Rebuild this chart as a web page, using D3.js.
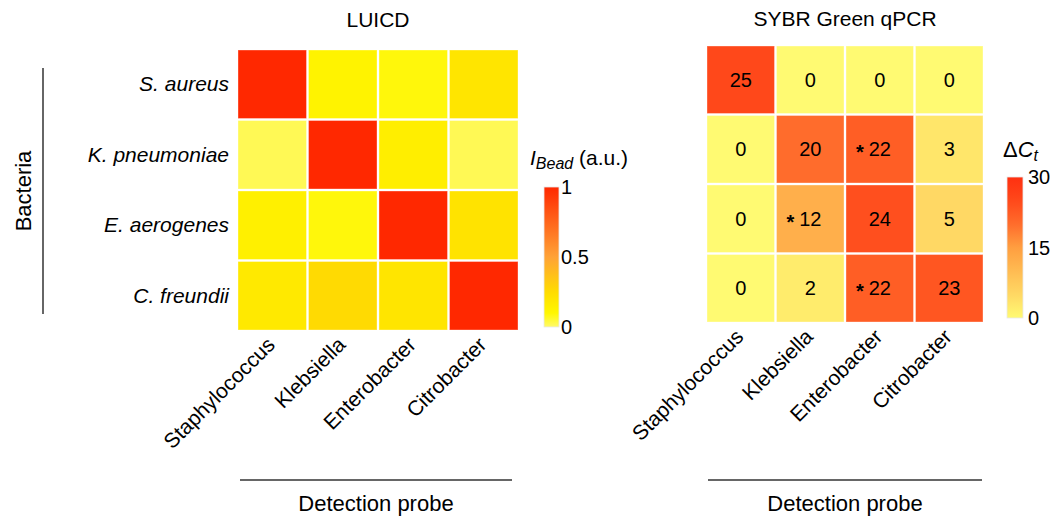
<!DOCTYPE html>
<html><head><meta charset="utf-8">
<script src="https://cdn.jsdelivr.net/npm/d3@7"></script>
<style>body{margin:0;background:#fff}svg{font-family:"Liberation Sans",Arial,sans-serif}</style>
</head><body><svg id="c" width="1056" height="520"></svg>
<script>
const bacteria = ["S. aureus", "K. pneumoniae", "E. aerogenes", "C. freundii"];
const probes = ["Staphylococcus", "Klebsiella", "Enterobacter", "Citrobacter"];
const luicd = [
  [1.00, 0.12, 0.09, 0.20],
  [0.02, 1.00, 0.15, 0.02],
  [0.14, 0.09, 1.00, 0.21],
  [0.18, 0.26, 0.20, 1.00]
];
const qpcr = [
  [25, 0, 0, 0],
  [0, 20, 22, 3],
  [0, 12, 24, 5],
  [0, 2, 22, 23]
];
const qpcrStar = [
  [false, false, false, false],
  [false, false, true, false],
  [false, true, false, false],
  [false, false, true, false]
];
const luicdTicks = [0, 0.5, 1];
const qpcrTicks = [0, 15, 30];

const svg = d3.select("#c");

const colL = d3.scaleLinear().domain([0, 0.1, 0.25, 0.5, 1])
  .range(["#fffa6a", "#fff700", "#ffdc00", "#ffa236", "#ff2800"]).clamp(true);
const colR = d3.scaleLinear().domain([0, 5, 15, 20, 25, 30])
  .range(["#fffa72", "#ffd864", "#ff9e40", "#ff6c2c", "#ff481a", "#ff3010"]).clamp(true);

function heat(opts) {
  const g = svg.append("g");
  const x = d3.scaleBand().domain(probes).range([opts.x0, opts.x1]);
  const y = d3.scaleBand().domain(bacteria).range([opts.y0, opts.y1]);
  const cells = [];
  opts.data.forEach((row, i) => row.forEach((v, j) => cells.push({r: bacteria[i], c: probes[j], v, i, j})));
  g.selectAll("rect.cell").data(cells).join("rect")
    .attr("x", d => x(d.c) + 1).attr("y", d => y(d.r) + 1)
    .attr("width", x.bandwidth() - 2).attr("height", y.bandwidth() - 2)
    .attr("fill", d => opts.color(d.v))
    .attr("stroke", "#fff").attr("stroke-opacity", 0.35).attr("stroke-width", 1);
  g.append("text").attr("x", (opts.x0 + opts.x1) / 2).attr("y", opts.titleY)
    .attr("text-anchor", "middle").attr("font-size", 21).text(opts.title);
  g.selectAll("text.col").data(probes).join("text")
    .attr("font-size", 21).attr("text-anchor", "end")
    .attr("transform", d => `translate(${x(d) + x.bandwidth() / 2 + 4},${opts.y1 + 15}) rotate(-45)`)
    .text(d => d);
  g.append("line").attr("x1", opts.lineX0).attr("x2", opts.lineX1).attr("y1", 480).attr("y2", 480)
    .attr("stroke", "#333").attr("stroke-width", 1.5);
  g.append("text").attr("x", (opts.lineX0 + opts.lineX1) / 2).attr("y", 511)
    .attr("text-anchor", "middle").attr("font-size", 22).text("Detection probe");
  return {g, x, y, cells};
}

const L = heat({x0: 237, x1: 519, y0: 49, y1: 331, data: luicd, color: colL, title: "LUICD", titleY: 27, lineX0: 240, lineX1: 512});
L.g.selectAll("text.row").data(bacteria).join("text")
  .attr("x", 229).attr("y", d => L.y(d) + L.y.bandwidth() / 2 + 7)
  .attr("text-anchor", "end").attr("font-size", 21).attr("font-style", "italic").text(d => d);
svg.append("line").attr("x1", 43).attr("x2", 43).attr("y1", 68).attr("y2", 314).attr("stroke", "#333").attr("stroke-width", 1.5);
svg.append("text").attr("transform", "translate(31,191) rotate(-90)").attr("text-anchor", "middle").attr("font-size", 22).text("Bacteria");

const R = heat({x0: 706, x1: 984, y0: 45, y1: 323, data: qpcr, color: colR, title: "SYBR Green qPCR", titleY: 26, lineX0: 708, lineX1: 982});
R.g.selectAll("text.val").data(R.cells).join("text")
  .attr("x", d => R.x(d.c) + R.x.bandwidth() / 2).attr("y", d => R.y(d.r) + R.y.bandwidth() / 2 + 7)
  .attr("text-anchor", "middle").attr("font-size", 20).text(d => d.v);
R.g.selectAll("text.star").data(R.cells.filter(d => qpcrStar[d.i][d.j])).join("text")
  .attr("x", d => R.x(d.c) + R.x.bandwidth() / 2 - 11 - (String(d.v).length - 1) * 5)
  .attr("y", d => R.y(d.r) + R.y.bandwidth() / 2 + 10)
  .attr("text-anchor", "end").attr("font-size", 20).attr("font-weight", "bold").text("*");

function colorbar(id, scale, ticks, x0, y0, y1, w, labX) {
  const defs = svg.append("defs");
  const grad = defs.append("linearGradient").attr("id", id).attr("x1", 0).attr("y1", 1).attr("x2", 0).attr("y2", 0);
  const dom = [ticks[0], ticks[ticks.length - 1]];
  d3.range(0, 1.0001, 0.05).forEach(t => grad.append("stop").attr("offset", t).attr("stop-color", scale(dom[0] + t * (dom[1] - dom[0]))));
  const ys = d3.scaleLinear().domain(dom).range([y1, y0]);
  svg.append("rect").attr("x", x0).attr("y", y0).attr("width", w).attr("height", y1 - y0)
    .attr("fill", `url(#${id})`).attr("stroke", "#e8e8e8").attr("stroke-width", 0.8);
  const ax = svg.append("g").attr("transform", `translate(${labX},0)`);
  ax.selectAll("text").data(ticks).join("text").attr("x", 0).attr("y", d => ys(d) + 7)
    .attr("font-size", 20).text(d => d);
}
colorbar("gL", colL, luicdTicks, 544, 187, 327, 15, 561);
colorbar("gR", colR, qpcrTicks, 1007, 177, 318, 16, 1028);

const tL = svg.append("text").attr("x", 530).attr("y", 165).attr("font-size", 21);
tL.append("tspan").attr("font-style", "italic").text("I");
tL.append("tspan").attr("font-style", "italic").attr("font-size", 16).attr("dy", 4).text("Bead");
tL.append("tspan").attr("dy", -4).text(" (a.u.)");
const tR = svg.append("text").attr("x", 1003).attr("y", 157).attr("font-size", 22);
tR.append("tspan").text("Δ");
tR.append("tspan").attr("font-style", "italic").text("C");
tR.append("tspan").attr("font-style", "italic").attr("font-size", 16).attr("dy", 4).text("t");
</script>
</body></html>
